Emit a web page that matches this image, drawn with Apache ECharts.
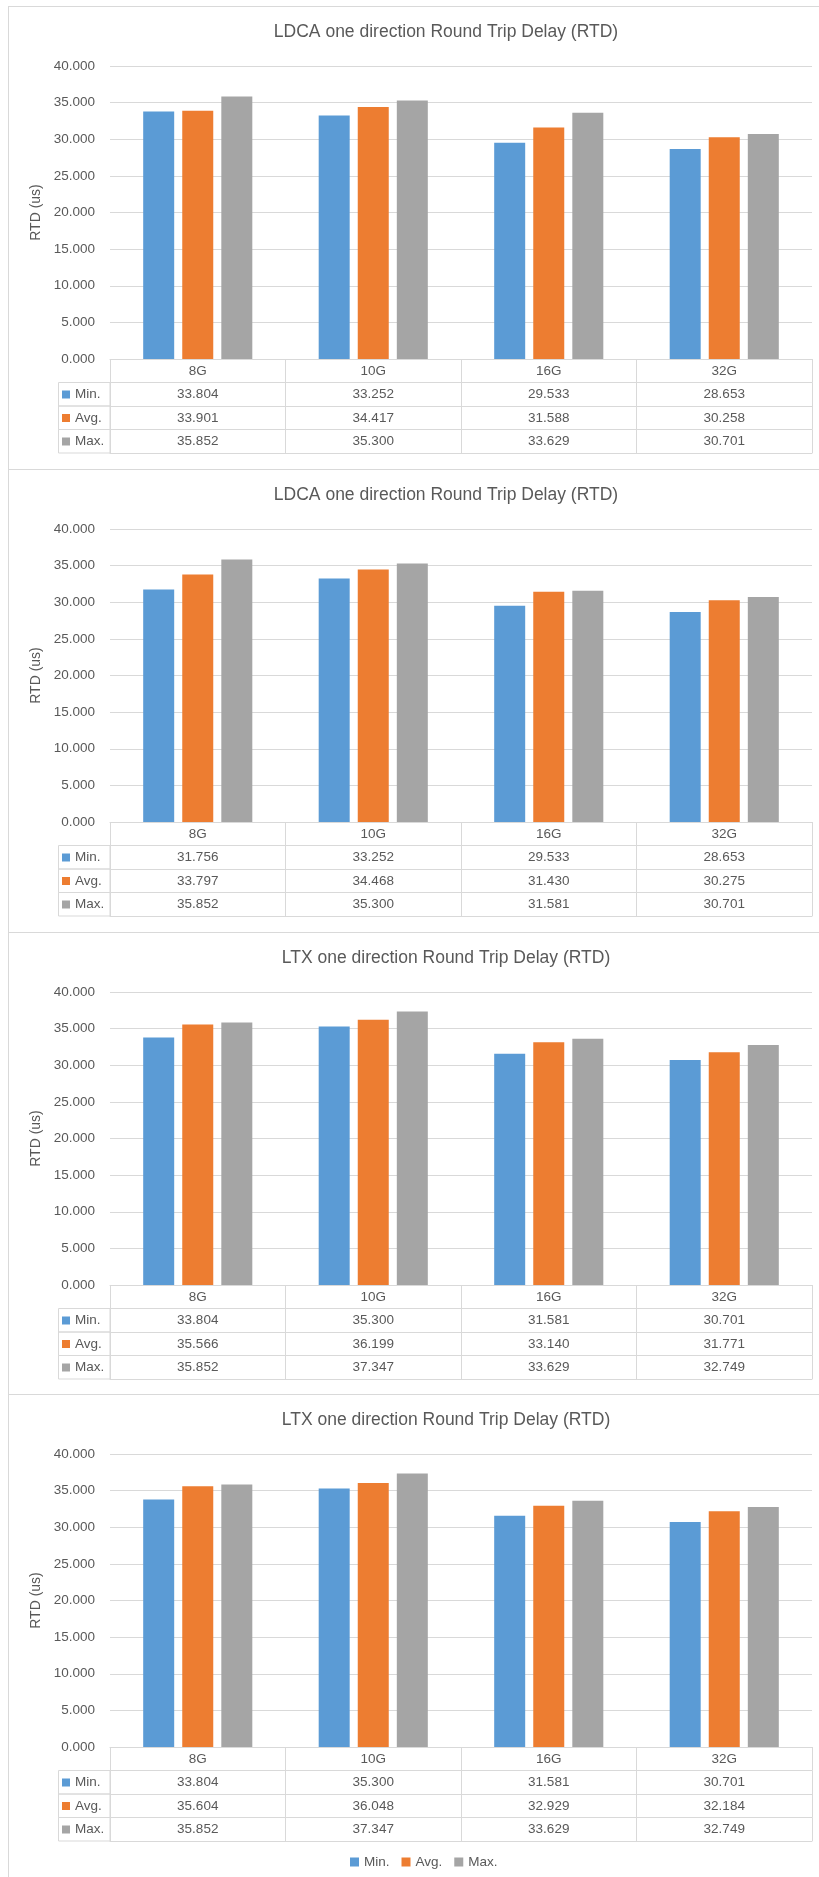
<!DOCTYPE html>
<html>
<head>
<meta charset="utf-8">
<title>RTD</title>
<script src="https://cdn.jsdelivr.net/npm/echarts@6/dist/echarts.min.js"></script>
<style>
html, body { margin: 0; padding: 0; background: #fff; overflow: hidden; width: 819px; height: 1877px; }
.panel { position: absolute; left: 8px; width: 900px; border: 1px solid #d9d9d9; box-sizing: border-box; }
.chart { position: absolute; left: 0; width: 819px; }
</style>
</head>
<body>
<script>
var categories = ['8G', '10G', '16G', '32G'];
var seriesNames = ['Min.', 'Avg.', 'Max.'];
var titles = [
	'LDCA one direction Round Trip Delay (RTD)',
	'LDCA one direction Round Trip Delay (RTD)',
	'LTX one direction Round Trip Delay (RTD)',
	'LTX one direction Round Trip Delay (RTD)'
];
// one row per chart, top to bottom
var minValues = [
	[33.804, 33.252, 29.533, 28.653],
	[31.756, 33.252, 29.533, 28.653],
	[33.804, 35.300, 31.581, 30.701],
	[33.804, 35.300, 31.581, 30.701]
];
var avgValues = [
	[33.901, 34.417, 31.588, 30.258],
	[33.797, 34.468, 31.430, 30.275],
	[35.566, 36.199, 33.140, 31.771],
	[35.604, 36.048, 32.929, 32.184]
];
var maxValues = [
	[35.852, 35.300, 33.629, 30.701],
	[35.852, 35.300, 31.581, 30.701],
	[35.852, 37.347, 33.629, 32.749],
	[35.852, 37.347, 33.629, 32.749]
];

var colors = ['#5B9BD5', '#ED7D31', '#A5A5A5'];
var textColor = '#595959';
var lineColor = '#D9D9D9';
var font = '"Liberation Sans", Arial, sans-serif';
var panelTops = [6, 469, 932, 1394];
var panelHeights = [463, 463, 462, 483];
var plotTop = 60, plotBottom = 353, rowH = 23.5;

function buildOption(i, withLegend) {
	var values = [minValues[i], avgValues[i], maxValues[i]];

	var xAxes = [];
	for (var k = 0; k < 5; k++) {
		(function (k) {
			xAxes.push({
				type: 'category',
				data: categories,
				position: 'bottom',
				offset: k * rowH,
				axisLine: { show: true, lineStyle: { color: lineColor } },
				axisTick: { show: k < 4, length: rowH, lineStyle: { color: lineColor } },
				axisLabel: {
					show: k < 4,
					interval: 0,
					margin: 5,
					color: textColor,
					fontSize: 13.5,
					fontFamily: font,
					formatter: function (v, idx) {
						return k === 0 ? v : values[k - 1][idx].toFixed(3);
					}
				}
			});
		})(k);
	}

	var legends = seriesNames.map(function (n, s) {
		return {
			data: [n],
			left: 62,
			top: plotBottom + rowH * (s + 1) + 5,
			padding: 0,
			icon: 'rect',
			itemWidth: 8,
			itemHeight: 8,
			itemGap: 4,
			selectedMode: false,
			textStyle: { color: textColor, fontSize: 13.5, fontFamily: font }
		};
	});
	if (withLegend) {
		legends.push({
			data: seriesNames,
			left: 350,
			top: 461,
			padding: 0,
			icon: 'rect',
			itemWidth: 9,
			itemHeight: 9,
			itemGap: 12,
			selectedMode: false,
			textStyle: { color: textColor, fontSize: 13.5, fontFamily: font }
		});
	}

	return {
		animation: false,
		title: {
			text: titles[i],
			left: 446,
			top: 17,
			padding: 0,
			textAlign: 'center',
			textStyle: { color: textColor, fontSize: 17.5, fontWeight: 'normal', fontFamily: font }
		},
		legend: legends,
		grid: { left: 110, right: 7, top: plotTop, height: plotBottom - plotTop },
		xAxis: xAxes,
		yAxis: {
			type: 'value',
			min: 0,
			max: 40,
			interval: 5,
			name: 'RTD (us)',
			nameLocation: 'middle',
			nameGap: 49,
			nameTextStyle: { color: textColor, fontSize: 14, fontFamily: font },
			axisLine: { show: false },
			axisTick: { show: false },
			axisLabel: {
				margin: 15,
				color: textColor,
				fontSize: 13.5,
				fontFamily: font,
				formatter: function (v) { return v.toFixed(3); }
			},
			splitLine: { lineStyle: { color: lineColor } }
		},
		graphic: seriesNames.map(function (n, s) {
			return {
				type: 'rect',
				silent: true,
				shape: { x: 58.5, y: plotBottom + rowH * (s + 1), width: 51.5, height: rowH },
				style: { fill: 'none', stroke: lineColor, lineWidth: 1 }
			};
		}),
		series: seriesNames.map(function (n, s) {
			return {
				name: n,
				type: 'bar',
				data: values[s],
				barWidth: 31,
				barGap: '26%',
				itemStyle: { color: colors[s] }
			};
		})
	};
}

for (var i = 0; i < 4; i++) {
	var panel = document.createElement('div');
	panel.className = 'panel';
	panel.style.top = panelTops[i] + 'px';
	panel.style.height = (i === 3 ? 600 : panelHeights[i] + 1) + 'px';
	document.body.appendChild(panel);

	var box = document.createElement('div');
	box.className = 'chart';
	box.style.top = panelTops[i] + 'px';
	box.style.height = panelHeights[i] + 'px';
	document.body.appendChild(box);

	var chart = echarts.init(box);
	chart.setOption(buildOption(i, i === 3));
}
</script>
</body>
</html>
